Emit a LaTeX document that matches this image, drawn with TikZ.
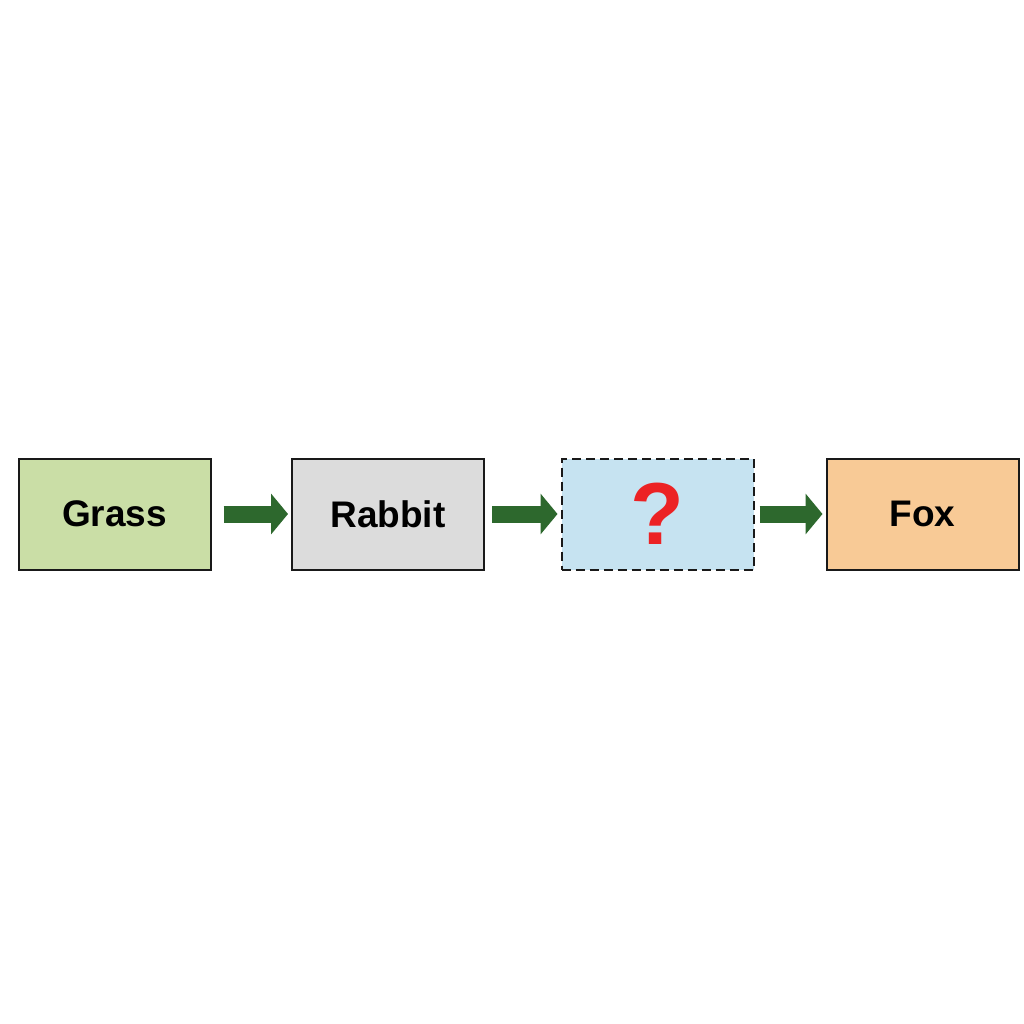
\documentclass[tikz,border=0pt]{standalone}
\usepackage{fontspec}
\setmainfont{Liberation Sans}
\usetikzlibrary{arrows.meta}
\definecolor{grassfill}{RGB}{202,222,166}
\definecolor{rabbitfill}{RGB}{220,220,220}
\definecolor{qfill}{RGB}{198,227,241}
\definecolor{foxfill}{RGB}{248,202,150}
\definecolor{arrgreen}{RGB}{45,104,45}
\definecolor{qred}{RGB}{236,34,36}
\begin{document}
\begin{tikzpicture}[x=1pt,y=-1pt,
  box/.style={draw=black!90, line width=2pt, minimum width=192pt, minimum height=111pt, inner sep=0pt,
    font=\fontsize{37}{40}\selectfont\bfseries},
  flow/.style={draw=arrgreen, line width=17pt, -{Triangle[length=17pt,width=40pt]}, shorten >=3pt}]
\useasboundingbox (0,0) rectangle (1024,1024);
\fill[white] (0,0) rectangle (1024,1024);
\node[box, fill=grassfill] (grass) at (114.5,514) {Grass};
\node[box, fill=rabbitfill] (rabbit) at (388,514) {Rabbit};
\node[box, fill=qfill, dash pattern=on 9pt off 5pt, text=qred, font=\fontsize{88}{92}\selectfont\bfseries] (unknown) at (657.5,514) {?};
\node[box, fill=foxfill] (fox) at (922.5,514) {Fox};
\draw[flow, shorten <=12pt] (grass.east) -- (rabbit.west);
\draw[flow, shorten <=7pt] (rabbit.east) -- (unknown.west);
\draw[flow, shorten <=5pt] (unknown.east) -- (fox.west);
\end{tikzpicture}
\end{document}
